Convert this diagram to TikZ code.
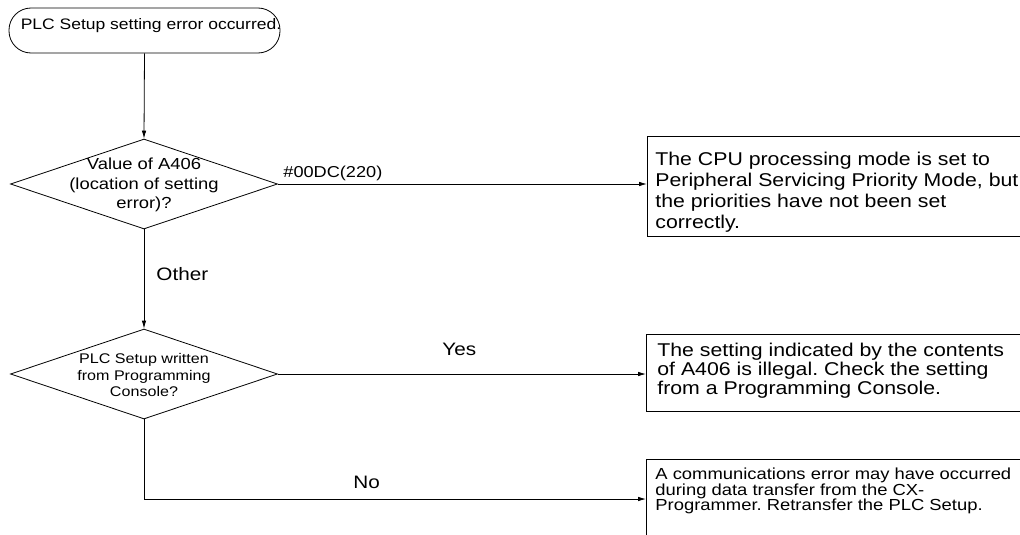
\documentclass[tikz,border=0pt]{standalone}
\usepackage{fontspec}
\setmainfont{Liberation Sans}[FakeStretch=1.15]
\usetikzlibrary{shapes.geometric,arrows.meta}
\newcommand{\fsz}[2]{\fontsize{#1}{#2}\selectfont}
\frenchspacing
\begin{document}
\begin{tikzpicture}[x=1pt,y=-1pt,
  line width=0.8pt,
  flow/.style={-{Latex[length=8pt,width=4.5pt]}},
  dec/.style={draw, diamond, minimum width=267pt, minimum height=90pt, inner sep=0pt},
  msg/.style={draw, rectangle, anchor=north west, minimum width=420pt, inner sep=0pt},
  msgtext/.style={anchor=north west, align=left, inner sep=0pt},
  lbl/.style={inner sep=0pt, anchor=base west, font=\fsz{18}{20}}]
\useasboundingbox (0,0) rectangle (1020,535);
\clip (0,0) rectangle (1020,535);

% start terminal
\node[draw, rounded corners=22pt, minimum width=271pt, minimum height=45pt, inner sep=0pt] (start) at (144.5,30.5) {};
\node[inner sep=0pt, font=\fsz{15.2}{17}] (starttxt) at (151,26) {PLC Setup setting error occurred.};

% decisions
\node[dec] (d1) at (144,184) {};
\node[inner sep=0pt, align=center, font=\fsz{16}{19.5}] (d1txt) at (144,185) {Value of A406\\(location of setting\\error)?};
\node[dec] (d2) at (144,374) {};
\node[inner sep=0pt, align=center, font=\fsz{14}{16.5}] (d2txt) at (144,375) {PLC Setup written\\from Programming\\Console?};

% message boxes
\node[msg, minimum height=100pt] (b1) at (647,136) {};
\node[msgtext, font=\fsz{18.5}{21}] (b1txt) at (655,152) {The CPU processing mode is set to\\Peripheral Servicing Priority Mode, but\\the priorities have not been set\\correctly.};
\node[msg, minimum height=77pt] (b2) at (646,334) {};
\node[msgtext, font=\fsz{18.5}{19}] (b2txt) at (657,343) {The setting indicated by the contents\\of A406 is illegal. Check the setting\\from a Programming Console.};
\node[msg, minimum height=100pt] (b3) at (646,459) {};
\node[msgtext, font=\fsz{16}{15.5}] (b3txt) at (655,468) {A communications error may have occurred\\during data transfer from the CX-\\Programmer. Retransfer the PLC Setup.};

% connectors
\coordinate (nocorner) at (144,499);
\draw[flow] (start.south) -- (d1.north);
\draw[flow] (d1.east) -- (d1.east -| b1.west);
\draw[flow] (d1.south) -- (d2.north);
\draw[flow] (d2.east) -- (d2.east -| b2.west);
\draw[flow] (d2.south) -- (nocorner) -- (nocorner -| b3.west);

% branch labels
\node[lbl, font=\fsz{15.8}{18}] (l1) at (283,177) {\#00DC(220)};
\node[lbl] (l2) at (156,280) {Other};
\node[lbl] (l3) at (442,355) {Yes};
\node[lbl] (l4) at (353,488) {No};
\end{tikzpicture}
\end{document}
